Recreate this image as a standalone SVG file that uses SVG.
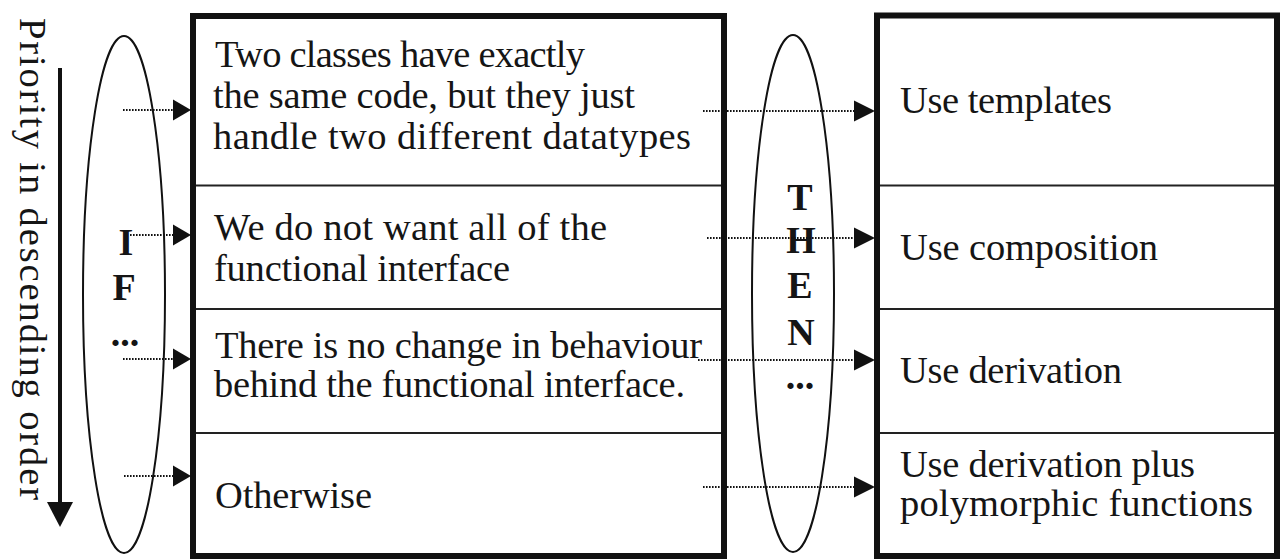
<svg xmlns="http://www.w3.org/2000/svg" width="1281" height="559" viewBox="0 0 1281 559">
<style>
.box{fill:none;stroke:#111;stroke-width:6}
.div{stroke:#222;stroke-width:2}
.ell{fill:none;stroke:#111;stroke-width:2}
.t{font-family:"Liberation Serif","Times New Roman",serif;font-size:38.5px;fill:#151515}
.b{font-family:"Liberation Serif","Times New Roman",serif;font-size:38px;font-weight:bold;fill:#151515;text-anchor:middle}
.dot{stroke:#111;stroke-width:2;stroke-dasharray:1.6 1.4;fill:none}
.head{fill:#111}
</style>
<rect width="1281" height="559" fill="#fff"/>
<g id="priority">
<line x1="60" y1="68" x2="60" y2="505" stroke="#111" stroke-width="4"/>
<polygon points="47,502 73,502 60,527" fill="#111"/>
<text class="t" transform="translate(20,18) rotate(90)" textLength="482" lengthAdjust="spacing">Priority in descending order</text>
</g>
<g id="if">
<ellipse class="ell" cx="124" cy="294.5" rx="41" ry="258.5"/>
<text class="b" x="126" y="255">I</text>
<text class="b" x="124" y="300">F</text>
<text class="b" x="125" y="346">...</text>
</g>
<g id="then">
<ellipse class="ell" cx="793" cy="293.5" rx="41" ry="258.5"/>
<text class="b" x="800" y="210">T</text>
<text class="b" x="801" y="253">H</text>
<text class="b" x="800" y="298">E</text>
<text class="b" x="801" y="345">N</text>
<text class="b" x="800" y="389">...</text>
</g>
<g id="conditions">
<rect class="box" x="193" y="16" width="531" height="540"/>
<line class="div" x1="196" y1="185.5" x2="721" y2="185.5"/>
<line class="div" x1="196" y1="309" x2="721" y2="309"/>
<line class="div" x1="196" y1="433" x2="721" y2="433"/>
<text class="t" x="215" y="67" textLength="370" lengthAdjust="spacing">Two classes have exactly</text>
<text class="t" x="213" y="108" textLength="422" lengthAdjust="spacing">the same code, but they just</text>
<text class="t" x="213" y="149" textLength="478" lengthAdjust="spacing">handle two different datatypes</text>
<text class="t" x="214" y="240" textLength="393" lengthAdjust="spacing">We do not want all of the</text>
<text class="t" x="214" y="281" textLength="296" lengthAdjust="spacing">functional interface</text>
<text class="t" x="215" y="358" textLength="487" lengthAdjust="spacing">There is no change in behaviour</text>
<text class="t" x="214" y="397" textLength="471" lengthAdjust="spacing">behind the functional interface.</text>
<text class="t" x="215" y="508" textLength="157" lengthAdjust="spacing">Otherwise</text>
</g>
<g id="actions">
<rect class="box" x="877" y="15.5" width="400" height="540.5"/>
<line class="div" x1="880" y1="185.5" x2="1274" y2="185.5"/>
<line class="div" x1="880" y1="309" x2="1274" y2="309"/>
<line class="div" x1="880" y1="433" x2="1274" y2="433"/>
<text class="t" x="900" y="113" textLength="212" lengthAdjust="spacing">Use templates</text>
<text class="t" x="900" y="260" textLength="258" lengthAdjust="spacing">Use composition</text>
<text class="t" x="900" y="383" textLength="222" lengthAdjust="spacing">Use derivation</text>
<text class="t" x="900" y="477" textLength="295" lengthAdjust="spacing">Use derivation plus</text>
<text class="t" x="900" y="516" textLength="353" lengthAdjust="spacing">polymorphic functions</text>
</g>
<g id="connectors">
<line class="dot" x1="123" y1="110" x2="174" y2="110"/>
<polygon class="head" points="173,99.5 191,110 173,120.5"/>
<line class="dot" x1="130" y1="235" x2="174" y2="235"/>
<polygon class="head" points="173,224.5 191,235 173,245.5"/>
<line class="dot" x1="123" y1="359" x2="174" y2="359"/>
<polygon class="head" points="173,348.5 191,359 173,369.5"/>
<line class="dot" x1="124" y1="476" x2="174" y2="476"/>
<polygon class="head" points="173,465.5 191,476 173,486.5"/>
<line class="dot" x1="703" y1="111" x2="855" y2="111"/>
<polygon class="head" points="854,100.5 875,111 854,121.5"/>
<line class="dot" x1="707" y1="238" x2="855" y2="238"/>
<polygon class="head" points="854,227.5 875,238 854,248.5"/>
<line class="dot" x1="698" y1="360" x2="855" y2="360"/>
<polygon class="head" points="854,349.5 875,360 854,370.5"/>
<line class="dot" x1="703" y1="487" x2="855" y2="487"/>
<polygon class="head" points="854,476.5 875,487 854,497.5"/>
</g>
</svg>
